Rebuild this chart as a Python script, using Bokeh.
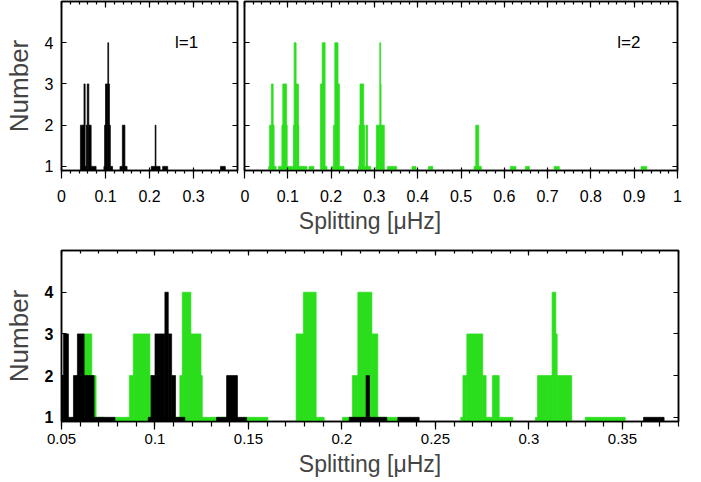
from bokeh.plotting import figure
from bokeh.layouts import column, row
from bokeh.models import LinearAxis, FixedTicker, Range1d, Label, CustomJSTickFormatter
from bokeh.embed import file_html
from bokeh.resources import INLINE

FONT = "Liberation Sans"
GREEN = "#2ade1c"

# l=1 splittings: step segments (left, right, number)
black_left = [0.043, 0.0511, 0.0537, 0.0564, 0.0585, 0.0621, 0.0674, 0.0964, 0.0979, 0.1000,
              0.1053, 0.1071, 0.1089, 0.1110, 0.1329, 0.1383, 0.1441, 0.2039, 0.2129, 0.2147,
              0.2299, 0.3613]
black_right = [0.0511, 0.0537, 0.0564, 0.0585, 0.0621, 0.0674, 0.0786, 0.0979, 0.1000, 0.1053,
               0.1071, 0.1089, 0.1110, 0.1160, 0.1383, 0.1441, 0.1490, 0.2129, 0.2147, 0.2240,
               0.2413, 0.3723]
black_count = [2, 3, 1, 2, 3, 2, 1, 1, 2, 3,
               4, 3, 2, 1, 1, 2, 1, 1, 2, 1,
               1, 1]

# l=2 splittings
green_left = [0.0560, 0.0580, 0.0621, 0.0662, 0.0685,
              0.0786, 0.0863, 0.0884, 0.0973, 0.0985,
              0.1133, 0.1146, 0.1192, 0.1246, 0.1253, 0.1329,
              0.1491,
              0.1755, 0.1794, 0.1862,
              0.2003, 0.2056, 0.2085, 0.2160, 0.2192,
              0.2635, 0.2647, 0.2668, 0.2753, 0.2771, 0.2805, 0.2841,
              0.3035, 0.3046, 0.3124, 0.3144, 0.3151,
              0.3301, 0.387, 0.425, 0.530, 0.534, 0.541, 0.614, 0.649, 0.715, 0.916]
green_right = [0.0580, 0.0621, 0.0662, 0.0685, 0.0730,
               0.0863, 0.0884, 0.0973, 0.0985, 0.1133,
               0.1146, 0.1192, 0.1246, 0.1253, 0.1329, 0.1441,
               0.1604,
               0.1794, 0.1862, 0.1905,
               0.2056, 0.2085, 0.2160, 0.2192, 0.2299,
               0.2647, 0.2668, 0.2753, 0.2771, 0.2805, 0.2841, 0.2914,
               0.3046, 0.3124, 0.3144, 0.3151, 0.3229,
               0.3515, 0.396, 0.435, 0.534, 0.541, 0.547, 0.627, 0.658, 0.727, 0.929]
green_count = [1, 2, 3, 2, 1,
               1, 2, 3, 2, 1,
               2, 4, 3, 2, 1, 1,
               1,
               3, 4, 1,
               1, 2, 4, 3, 1,
               1, 2, 3, 2, 1, 2, 1,
               1, 2, 4, 3, 2,
               1, 1, 1, 1, 2, 1, 1, 1, 1, 1]

y_ticks = [1, 2, 3, 4]
tl_ticks = [0, 0.1, 0.2, 0.3]
tl_labels = ["0", "0.1", "0.2", "0.3"]
tl_minor = [round(0.02 * i, 2) for i in range(0, 21)]
tr_ticks = [round(0.1 * i, 1) for i in range(0, 11)]
tr_labels = ["0", "0.1", "0.2", "0.3", "0.4", "0.5", "0.6", "0.7", "0.8", "0.9", "1"]
tr_minor = [round(0.02 * i, 2) for i in range(0, 51)]
b_ticks = [0.05, 0.1, 0.15, 0.2, 0.25, 0.3, 0.35]
b_labels = ["0.05", "0.1", "0.15", "0.2", "0.25", "0.3", "0.35"]
b_minor = [round(0.01 * i, 2) for i in range(5, 39)]

EMPTY = CustomJSTickFormatter(code="return ''")


def setup(p, xt, xl, xm, ylabels, xfont, yfont, ystyle, top_major, top_minor,
          bmaj_in, bmaj_out, bmin_out, xstand):
    p.xgrid.visible = False
    p.ygrid.visible = False
    p.outline_line_color = "black"
    p.outline_line_width = 1.5
    p.background_fill_color = "white"
    p.border_fill_color = "white"
    # bottom axis
    xa = p.below[0]
    xa.ticker = FixedTicker(ticks=xt, minor_ticks=xm)
    xa.major_label_overrides = {t: l for t, l in zip(xt, xl)}
    xa.major_label_text_font = FONT
    xa.major_label_text_font_size = xfont
    xa.major_label_text_color = "black"
    xa.major_tick_in = bmaj_in
    xa.major_tick_out = bmaj_out
    xa.minor_tick_in = 0
    xa.minor_tick_out = bmin_out
    xa.major_label_standoff = xstand
    xa.axis_line_width = 1.5
    xa.major_tick_line_width = 1.2
    xa.minor_tick_line_width = 1.2
    # left axis
    ya = p.left[0]
    ya.ticker = FixedTicker(ticks=y_ticks, minor_ticks=[])
    if ylabels:
        ya.major_label_text_font = FONT
        ya.major_label_text_font_size = yfont
        ya.major_label_text_font_style = ystyle
        ya.major_label_text_color = "black"
        ya.major_label_standoff = 8
        ya.axis_label = "Number"
        ya.axis_label_text_font = FONT
        ya.axis_label_text_font_size = "26px"
        ya.axis_label_text_font_style = "normal"
        ya.axis_label_standoff = 8
    else:
        ya.formatter = EMPTY
        ya.major_label_text_font_size = "0px"
        ya.major_label_standoff = 0
    ya.major_tick_in = 5
    ya.major_tick_out = 0
    ya.axis_line_width = 1.5
    ya.major_tick_line_width = 1.2
    # top axis
    ta = LinearAxis(ticker=FixedTicker(ticks=xt, minor_ticks=xm), formatter=EMPTY)
    ta.major_label_text_font_size = "0px"
    ta.major_label_standoff = 0
    ta.major_tick_in = top_major
    ta.major_tick_out = 0
    ta.minor_tick_in = top_minor
    ta.minor_tick_out = 0
    ta.axis_line_width = 1.5
    ta.major_tick_line_width = 1.2
    ta.minor_tick_line_width = 1.2
    p.add_layout(ta, "above")
    # right axis
    ra = LinearAxis(ticker=FixedTicker(ticks=y_ticks, minor_ticks=[]), formatter=EMPTY)
    ra.major_label_text_font_size = "0px"
    ra.major_label_standoff = 0
    ra.major_tick_in = 5
    ra.major_tick_out = 0
    ra.axis_line_width = 1.5
    ra.major_tick_line_width = 1.2
    p.add_layout(ra, "right")
    return ta


def bars(p, left, right, top, color):
    p.quad(left=left, right=right, top=top, bottom=0,
           fill_color=color, line_color=color, line_width=0.7)


# top-left: l=1
p1 = figure(frame_width=176, frame_height=169, x_range=Range1d(0, 0.4), y_range=Range1d(0.9, 5.0),
            output_backend="svg", toolbar_location=None,
            min_border_left=53, min_border_right=3, min_border_top=1, min_border_bottom=28)
bars(p1, black_left, black_right, black_count, "black")
setup(p1, tl_ticks, tl_labels, tl_minor, True, "16px", "16px", "normal", 6, 3, 3, 8, 3, 11)
p1.add_layout(Label(x=0.258, y=4, text="l=1", text_font=FONT, text_font_size="17px",
                    text_baseline="middle", text_color="black"))

# top-right: l=2
p2 = figure(frame_width=433, frame_height=169, x_range=Range1d(0, 1), y_range=Range1d(0.9, 5.0),
            output_backend="svg", toolbar_location=None,
            min_border_left=4, min_border_right=10, min_border_top=1, min_border_bottom=28)
bars(p2, green_left, green_right, green_count, GREEN)
setup(p2, tr_ticks, tr_labels, tr_minor, False, "16px", "16px", "normal", 6, 3, 3, 8, 3, 11)
p2.add_layout(Label(x=0.861, y=4, text="l=2", text_font=FONT, text_font_size="17px",
                    text_baseline="middle", text_color="black"))

# bottom: zoom, both degrees
p3 = figure(frame_width=617, frame_height=171, x_range=Range1d(0.05, 0.38), y_range=Range1d(0.9, 5.0),
            output_backend="svg", toolbar_location=None,
            min_border_left=53, min_border_right=10, min_border_top=44, min_border_bottom=55)
bars(p3, green_left, green_right, green_count, GREEN)
bars(p3, black_left, black_right, black_count, "black")
top3 = setup(p3, b_ticks, b_labels, b_minor, True, "15px", "16px", "bold", 5, 3, 0, 8, 5, 4)
xa3 = p3.below[0]
xa3.axis_label = "Splitting [μHz]"
xa3.axis_label_text_font = FONT
xa3.axis_label_text_font_size = "23px"
xa3.axis_label_text_font_style = "normal"
xa3.axis_label_standoff = 4
# x-axis title of the two upper panels, carried by the lower panel's top axis
top3.axis_label = "Splitting [μHz]"
top3.axis_label_text_font = FONT
top3.axis_label_text_font_size = "23px"
top3.axis_label_text_font_style = "normal"
top3.axis_label_standoff = 17

layout = column(row(p1, p2, spacing=0), p3, spacing=0)
open("out.html", "w").write(file_html(layout, INLINE))
